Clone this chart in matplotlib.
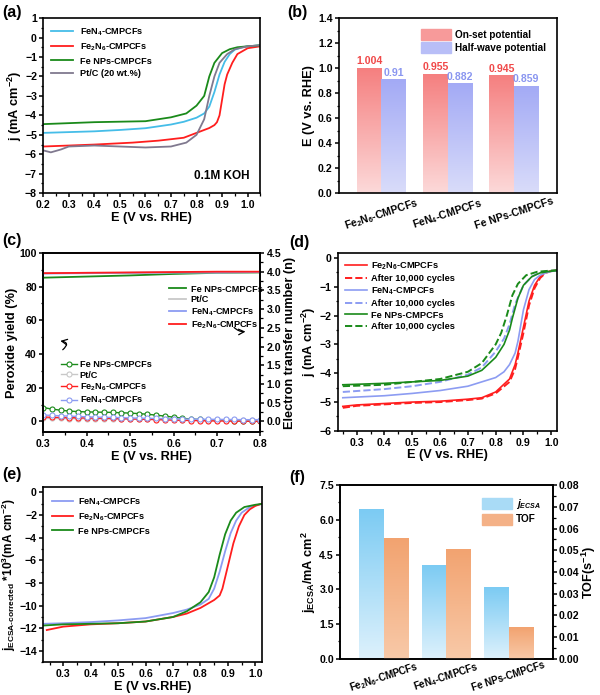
import numpy as np
import matplotlib
matplotlib.use("Agg")
import matplotlib.pyplot as plt
from matplotlib.colors import LinearSegmentedColormap
from matplotlib.ticker import AutoMinorLocator, MultipleLocator
from matplotlib.patches import Patch

plt.rcParams['font.family'] = ['Liberation Sans', 'DejaVu Sans']
plt.rcParams['font.weight'] = 'bold'
plt.rcParams['axes.labelweight'] = 'bold'
plt.rcParams['mathtext.fontset'] = 'custom'
plt.rcParams['mathtext.rm'] = 'Liberation Sans:bold'
plt.rcParams['mathtext.bf'] = 'Liberation Sans:bold'
plt.rcParams['mathtext.it'] = 'Liberation Sans:bold:italic'
plt.rcParams['axes.linewidth'] = 1.2
plt.rcParams['xtick.major.width'] = 1.1
plt.rcParams['ytick.major.width'] = 1.1
plt.rcParams['xtick.minor.width'] = 0.9
plt.rcParams['ytick.minor.width'] = 0.9
plt.rcParams['xtick.major.size'] = 3
plt.rcParams['ytick.major.size'] = 3
plt.rcParams['xtick.minor.size'] = 1.8
plt.rcParams['ytick.minor.size'] = 1.8
plt.rcParams['xtick.major.pad'] = 2
plt.rcParams['ytick.major.pad'] = 1.5

FE2N6 = r'Fe$_2$N$_6$-CMPCFs'
FEN4 = r'FeN$_4$-CMPCFs'
FENP = 'Fe NPs-CMPCFs'

# ---- (a) LSV in 0.1M KOH ----
a_E_fen4 = [0.2, 0.3, 0.4, 0.5, 0.6, 0.7, 0.75, 0.8, 0.83, 0.85, 0.87, 0.89, 0.91, 0.93, 0.95, 0.98, 1.0, 1.05]
a_j_fen4 = [-4.9, -4.86, -4.82, -4.75, -4.66, -4.47, -4.33, -4.12, -3.9, -3.55, -2.8, -1.9, -1.25, -0.85, -0.62, -0.5, -0.45, -0.4]
a_E_fe2n6 = [0.2, 0.3, 0.4, 0.55, 0.65, 0.75, 0.8, 0.85, 0.87, 0.88, 0.89, 0.9, 0.91, 0.92, 0.94, 0.96, 1.0, 1.05]
a_j_fe2n6 = [-5.6, -5.55, -5.5, -5.4, -5.3, -5.15, -4.9, -4.65, -4.5, -4.35, -4.0, -3.2, -2.4, -1.9, -1.3, -0.85, -0.55, -0.45]
a_E_fenp = [0.2, 0.4, 0.6, 0.7, 0.76, 0.8, 0.83, 0.85, 0.87, 0.9, 0.93, 0.96, 1.0, 1.05]
a_j_fenp = [-4.45, -4.35, -4.3, -4.1, -3.9, -3.5, -3.0, -2.0, -1.3, -0.8, -0.6, -0.5, -0.45, -0.4]
a_E_ptc = [0.2, 0.23, 0.27, 0.3, 0.4, 0.5, 0.6, 0.7, 0.76, 0.8, 0.83, 0.85, 0.87, 0.89, 0.92, 0.95, 1.0, 1.05]
a_j_ptc = [-5.8, -5.9, -5.75, -5.6, -5.55, -5.6, -5.65, -5.6, -5.4, -5.0, -4.2, -3.0, -2.0, -1.3, -0.85, -0.6, -0.45, -0.4]

# ---- (b) on-set / half-wave ----
b_cats = [FE2N6, FEN4, FENP]
b_onset = [1.004, 0.955, 0.945]
b_half = [0.91, 0.882, 0.859]
b_onset_lbl = ['1.004', '0.955', '0.945']
b_half_lbl = ['0.91', '0.882', '0.859']

# ---- (c) peroxide yield / electron transfer number ----
c_E = [0.30, 0.32, 0.34, 0.36, 0.38, 0.40, 0.42, 0.44, 0.46, 0.48, 0.50, 0.52, 0.54,
       0.56, 0.58, 0.60, 0.62, 0.64, 0.66, 0.68, 0.70, 0.72, 0.74, 0.76, 0.78, 0.80]
c_h2o2_fenp = [8.2, 7.3, 6.6, 6.1, 5.8, 5.6, 5.5, 5.4, 5.3, 5.1, 4.9, 4.6, 4.2,
               3.7, 3.1, 2.5, 1.8, 1.4, 1.1, 0.9, 0.7, 0.6, 0.5, 0.4, 0.3, 0.3]
c_h2o2_ptc = [1.8, 1.7, 1.7, 1.6, 1.6, 1.5, 1.5, 1.5, 1.4, 1.4, 1.3, 1.3, 1.2,
              1.2, 1.1, 1.1, 1.0, 1.0, 1.0, 0.9, 0.9, 0.9, 0.8, 0.8, 0.8, 0.8]
c_h2o2_fe2n6 = [2.6, 2.4, 2.3, 2.2, 2.1, 2.0, 1.9, 1.8, 1.7, 1.6, 1.5, 1.3, 1.2,
                1.0, 0.9, 0.7, 0.6, 0.5, 0.4, 0.3, 0.2, 0.2, 0.1, 0.1, 0.0, 0.0]
c_h2o2_fen4 = [3.8, 3.5, 3.3, 3.1, 2.9, 2.7, 2.5, 2.4, 2.3, 2.2, 2.0, 1.9, 1.8,
               1.7, 1.6, 1.5, 1.4, 1.3, 1.3, 1.2, 1.2, 1.1, 1.1, 1.0, 1.0, 1.0]
c_En = [0.3, 0.4, 0.5, 0.6, 0.7, 0.8]
c_n_fenp = [3.84, 3.87, 3.9, 3.94, 3.97, 3.98]
c_n_ptc = [3.96, 3.97, 3.97, 3.98, 3.98, 3.99]
c_n_fen4 = [3.95, 3.96, 3.97, 3.98, 3.98, 3.99]
c_n_fe2n6 = [3.96, 3.97, 3.98, 3.99, 4.0, 4.0]

# ---- (d) stability ----
d_E_fe2n6 = [0.25, 0.3, 0.4, 0.5, 0.6, 0.7, 0.75, 0.8, 0.85, 0.87, 0.88, 0.9, 0.92, 0.94, 0.96, 0.98, 1.0, 1.03]
d_j_fe2n6 = [-5.15, -5.1, -5.05, -5.0, -4.97, -4.9, -4.85, -4.65, -4.2, -3.7, -3.3, -2.4, -1.5, -0.95, -0.65, -0.5, -0.45, -0.42]
d_j_fe2n6_after = [-5.2, -5.13, -5.08, -5.03, -5.0, -4.93, -4.88, -4.7, -4.3, -3.85, -3.45, -2.6, -1.65, -1.05, -0.7, -0.52, -0.46, -0.42]
d_E_fen4 = [0.25, 0.4, 0.5, 0.6, 0.7, 0.8, 0.83, 0.85, 0.87, 0.88, 0.89, 0.9, 0.92, 0.94, 0.96, 0.98, 1.0, 1.03]
d_j_fen4 = [-4.85, -4.78, -4.7, -4.6, -4.45, -4.15, -3.95, -3.7, -3.3, -2.9, -2.35, -1.8, -1.1, -0.75, -0.6, -0.52, -0.47, -0.43]
d_E_fen4_after = [0.25, 0.4, 0.5, 0.6, 0.7, 0.75, 0.8, 0.83, 0.85, 0.87, 0.9, 0.93, 0.96, 1.0, 1.03]
d_j_fen4_after = [-4.65, -4.55, -4.45, -4.3, -4.05, -3.8, -3.25, -2.8, -2.3, -1.6, -0.95, -0.65, -0.5, -0.45, -0.43]
d_E_fenp = [0.25, 0.4, 0.5, 0.6, 0.7, 0.75, 0.8, 0.83, 0.85, 0.86, 0.88, 0.9, 0.93, 0.96, 1.0, 1.03]
d_j_fenp = [-4.4, -4.35, -4.3, -4.25, -4.1, -3.9, -3.45, -3.0, -2.5, -2.1, -1.4, -0.95, -0.65, -0.52, -0.46, -0.43]
d_E_fenp_after = [0.25, 0.4, 0.5, 0.6, 0.7, 0.75, 0.8, 0.82, 0.84, 0.86, 0.88, 0.91, 0.95, 1.0, 1.03]
d_j_fenp_after = [-4.45, -4.4, -4.3, -4.2, -3.95, -3.65, -3.0, -2.6, -2.0, -1.3, -0.9, -0.6, -0.48, -0.44, -0.42]

# ---- (e) ECSA-corrected LSV ----
e_E_fen4 = [0.23, 0.3, 0.4, 0.5, 0.6, 0.7, 0.75, 0.8, 0.83, 0.85, 0.87, 0.89, 0.91, 0.93, 0.95, 0.98, 1.0, 1.03]
e_j_fen4 = [-11.6, -11.55, -11.45, -11.3, -11.1, -10.65, -10.35, -9.9, -9.4, -8.5, -7.0, -5.2, -3.6, -2.5, -1.8, -1.3, -1.15, -1.0]
e_E_fe2n6 = [0.24, 0.3, 0.4, 0.5, 0.6, 0.7, 0.75, 0.8, 0.85, 0.87, 0.88, 0.9, 0.92, 0.94, 0.96, 0.98, 1.0, 1.03]
e_j_fe2n6 = [-12.15, -11.85, -11.65, -11.55, -11.4, -11.0, -10.7, -10.2, -9.5, -9.1, -8.5, -6.5, -4.5, -3.0, -2.0, -1.5, -1.2, -0.95]
e_E_fenp = [0.23, 0.3, 0.4, 0.5, 0.6, 0.7, 0.75, 0.8, 0.83, 0.85, 0.87, 0.89, 0.91, 0.93, 0.96, 1.0, 1.03]
e_j_fenp = [-11.75, -11.65, -11.6, -11.55, -11.4, -11.0, -10.5, -9.7, -8.8, -7.5, -5.5, -3.7, -2.5, -1.8, -1.3, -1.1, -1.0]

# ---- (f) j_ECSA and TOF ----
f_cats = [FE2N6, FEN4, FENP]
f_jecsa = [6.46, 4.07, 3.09]
f_tof = [0.0557, 0.0507, 0.0147]

C_CYAN = '#45BDE8'
C_RED = '#FF1E1E'
C_GREEN = '#1A8A1A'
C_GRAY = '#80798F'
C_BLUE = '#8C9CF2'
C_LGRAY = '#C8C8C8'

TICK_FS = 7.6
LAB_FS = 9.2
LEG_FS = 6.6


def grad_bar(ax, x, h, w, c_top, c_bot, z=2):
    bar = ax.bar(x, h, w, color='none', edgecolor='none', zorder=z)[0]
    cmap = LinearSegmentedColormap.from_list('g', [c_bot, c_top])
    grad = np.linspace(0, 1, 100).reshape(-1, 1)
    im = ax.imshow(grad, extent=[bar.get_x(), bar.get_x() + bar.get_width(), 0, bar.get_height()],
                   origin='lower', aspect='auto', cmap=cmap, zorder=z)
    im.set_clip_path(bar)
    return bar


def style(ax, minor_x=True):
    ax.tick_params(labelsize=TICK_FS, direction='out')
    if minor_x:
        ax.xaxis.set_minor_locator(AutoMinorLocator(2))
    ax.yaxis.set_minor_locator(AutoMinorLocator(2))
    for lbl in ax.get_xticklabels() + ax.get_yticklabels():
        lbl.set_fontweight('bold')


fig = plt.figure(figsize=(6, 6.95), dpi=100)
ax_a = fig.add_axes([0.072, 0.722, 0.362, 0.252])
ax_b = fig.add_axes([0.565, 0.722, 0.363, 0.252])
ax_c = fig.add_axes([0.072, 0.378, 0.362, 0.258])
ax_d = fig.add_axes([0.563, 0.380, 0.365, 0.256])
ax_e = fig.add_axes([0.072, 0.047, 0.365, 0.252])
ax_f = fig.add_axes([0.567, 0.052, 0.354, 0.250])

# (a)
ax_a.plot(a_E_fen4, a_j_fen4, color=C_CYAN, lw=1.3, label=FEN4)
ax_a.plot(a_E_fe2n6, a_j_fe2n6, color=C_RED, lw=1.3, label=FE2N6)
ax_a.plot(a_E_fenp, a_j_fenp, color=C_GREEN, lw=1.3, label=FENP)
ax_a.plot(a_E_ptc, a_j_ptc, color=C_GRAY, lw=1.3, label='Pt/C (20 wt.%)')
ax_a.set_xlim(0.2, 1.05)
ax_a.set_ylim(-8, 1)
ax_a.xaxis.set_major_locator(MultipleLocator(0.1))
ax_a.yaxis.set_major_locator(MultipleLocator(1))
ax_a.set_xlabel('E (V vs. RHE)', fontsize=LAB_FS, labelpad=1)
ax_a.set_ylabel(r'j (mA cm$^{-2}$)', fontsize=LAB_FS, labelpad=1)
ax_a.text(0.79, -7.1, '0.1M KOH', fontsize=8.5, fontweight='bold', va='center')
ax_a.legend(loc='upper left', fontsize=LEG_FS, frameon=False, handlelength=2.3,
            labelspacing=0.4, borderaxespad=0.5)
style(ax_a)

# (b)
w = 0.37
xb = np.arange(len(b_cats))
for i in range(len(b_cats)):
    grad_bar(ax_b, xb[i] - w / 2, b_onset[i], w, '#F57F7F', '#FCD9D9')
    grad_bar(ax_b, xb[i] + w / 2, b_half[i], w, '#A3AAF5', '#D9DCFA')
    ax_b.text(xb[i] - w / 2, b_onset[i] + 0.01, b_onset_lbl[i], ha='center', va='bottom',
              color='#F04848', fontsize=7.6, fontweight='bold')
    ax_b.text(xb[i] + w / 2, b_half[i] + 0.01, b_half_lbl[i], ha='center', va='bottom',
              color='#8A96F0', fontsize=7.6, fontweight='bold')
ax_b.set_xlim(-0.64, 2.65)
ax_b.set_ylim(0, 1.4)
ax_b.set_xticks(xb)
ax_b.set_xticklabels(b_cats, rotation=18, ha='center')
ax_b.yaxis.set_major_locator(MultipleLocator(0.2))
ax_b.set_ylabel('E (V vs. RHE)', fontsize=LAB_FS, labelpad=2)
ax_b.legend(handles=[Patch(color='#F79A9A', label='On-set potential'),
                     Patch(color='#B8BEF7', label='Half-wave potential')],
            loc='upper right', fontsize=7.2, frameon=False, handlelength=3, handleheight=1.3,
            labelspacing=0.25, borderaxespad=0.7, handletextpad=0.4)
style(ax_b, minor_x=False)
ax_b.tick_params(axis='x', length=0)

# (c)
ax_c2 = ax_c.twinx()
mk = dict(lw=1, marker='o', ms=3.6, mfc='white', mew=0.8)
ax_c.plot(c_E, c_h2o2_fenp, color=C_GREEN, label=FENP, **mk)
ax_c.plot(c_E, c_h2o2_ptc, color=C_LGRAY, label='Pt/C', **mk)
ax_c.plot(c_E, c_h2o2_fe2n6, color=C_RED, label=FE2N6, **mk)
ax_c.plot(c_E, c_h2o2_fen4, color=C_BLUE, label=FEN4, **mk)
ax_c2.plot(c_En, c_n_fenp, color=C_GREEN, lw=1.3, label=FENP)
ax_c2.plot(c_En, c_n_ptc, color=C_LGRAY, lw=1.3, label='Pt/C')
ax_c2.plot(c_En, c_n_fen4, color=C_BLUE, lw=1.3, label=FEN4)
ax_c2.plot(c_En, c_n_fe2n6, color=C_RED, lw=1.3, label=FE2N6)
ax_c.set_xlim(0.3, 0.8)
ax_c.set_ylim(-6.5, 100)
ax_c2.set_ylim(-6.5 * 4.5 / 100, 4.5)
ax_c.xaxis.set_major_locator(MultipleLocator(0.1))
ax_c.yaxis.set_major_locator(MultipleLocator(20))
ax_c2.yaxis.set_major_locator(MultipleLocator(0.5))
ax_c.set_xlabel('E (V vs. RHE)', fontsize=LAB_FS, labelpad=1)
ax_c.set_ylabel('Peroxide yield (%)', fontsize=LAB_FS, labelpad=1)
ax_c2.set_ylabel('Electron transfer number (n)', fontsize=LAB_FS, labelpad=2)
ax_c.legend(loc='upper left', bbox_to_anchor=(0.045, 0.45), fontsize=LEG_FS, frameon=False,
            handlelength=1.7, labelspacing=0.2, handletextpad=0.3)
ax_c2.legend(loc='upper left', bbox_to_anchor=(0.54, 0.87), fontsize=LEG_FS, frameon=False,
             handlelength=1.9, labelspacing=0.2, handletextpad=0.5)
ax_c.annotate('', xy=(0.333, 48), xytext=(0.34, 41.5),
              arrowprops=dict(arrowstyle='->', color='black', lw=0.9, connectionstyle='arc3,rad=1.3'))
ax_c.annotate('', xy=(0.772, 53.5), xytext=(0.735, 57),
              arrowprops=dict(arrowstyle='->', color='black', lw=0.9, connectionstyle='arc3,rad=0.3'))
style(ax_c)
style(ax_c2)

# (d)
ax_d.plot(d_E_fe2n6, d_j_fe2n6, color=C_RED, lw=1.2, label=FE2N6)
ax_d.plot(d_E_fe2n6, d_j_fe2n6_after, color=C_RED, lw=1.4, ls='--', label='After 10,000 cycles')
ax_d.plot(d_E_fen4, d_j_fen4, color=C_BLUE, lw=1.2, label=FEN4)
ax_d.plot(d_E_fen4_after, d_j_fen4_after, color=C_BLUE, lw=1.4, ls='--', label='After 10,000 cycles')
ax_d.plot(d_E_fenp, d_j_fenp, color=C_GREEN, lw=1.2, label=FENP)
ax_d.plot(d_E_fenp_after, d_j_fenp_after, color=C_GREEN, lw=1.4, ls='--', label='After 10,000 cycles')
ax_d.set_xlim(0.232, 1.02)
ax_d.set_ylim(-6, 0.17)
ax_d.set_xticks([0.3, 0.4, 0.5, 0.6, 0.7, 0.8, 0.9, 1.0])
ax_d.yaxis.set_major_locator(MultipleLocator(1))
ax_d.set_xlabel('E (V vs. RHE)', fontsize=LAB_FS, labelpad=1)
ax_d.set_ylabel(r'j (mA cm$^{-2}$)', fontsize=LAB_FS, labelpad=1)
ax_d.legend(loc='upper left', fontsize=6.7, frameon=False, handlelength=2.3,
            labelspacing=0.25, borderaxespad=0.4, handletextpad=0.5)
style(ax_d)

# (e)
ax_e.plot(e_E_fen4, e_j_fen4, color=C_BLUE, lw=1.3, label=FEN4)
ax_e.plot(e_E_fe2n6, e_j_fe2n6, color=C_RED, lw=1.3, label=FE2N6)
ax_e.plot(e_E_fenp, e_j_fenp, color=C_GREEN, lw=1.3, label=FENP)
ax_e.set_xlim(0.227, 1.025)
ax_e.set_ylim(-15, 0.45)
ax_e.set_xticks([0.3, 0.4, 0.5, 0.6, 0.7, 0.8, 0.9, 1.0])
ax_e.yaxis.set_major_locator(MultipleLocator(2))
ax_e.set_xlabel('E (V vs.RHE)', fontsize=LAB_FS, labelpad=1)
ax_e.set_ylabel(r'j$_{\mathrm{ECSA\text{-}corrected}}$ *10$^3$(mA cm$^{-2}$)', fontsize=8.6, labelpad=1)
ax_e.legend(loc='upper left', fontsize=LEG_FS, frameon=False, handlelength=2.3,
            labelspacing=0.4, borderaxespad=0.6, handletextpad=0.5)
style(ax_e)

# (f)
ax_f2 = ax_f.twinx()
wf = 0.4
xf = np.arange(len(f_cats))
for i in range(len(f_cats)):
    grad_bar(ax_f, xf[i] - wf / 2, f_jecsa[i], wf, '#7CCBF3', '#DDF1FC')
    grad_bar(ax_f2, xf[i] + wf / 2, f_tof[i], wf, '#F2A370', '#F8C9A8')
ax_f.set_xlim(-0.71, 2.71)
ax_f2.set_xlim(-0.71, 2.71)
ax_f.set_ylim(0, 7.5)
ax_f2.set_ylim(0, 0.08)
ax_f.set_xticks(xf)
ax_f.set_xticklabels(f_cats, rotation=18, ha='center')
ax_f.yaxis.set_major_locator(MultipleLocator(1.5))
ax_f2.yaxis.set_major_locator(MultipleLocator(0.01))
ax_f.set_ylabel(r'j$_{\mathrm{ECSA}}$/mA cm$^2$', fontsize=LAB_FS, labelpad=1)
ax_f2.set_ylabel(r'TOF(s$^{-1}$)', fontsize=LAB_FS, labelpad=0.5)
ax_f2.legend(handles=[Patch(color='#A9DBF6', label=r'$j_{ECSA}$'),
                      Patch(color='#F4B187', label='TOF')],
             loc='upper right', fontsize=7.2, frameon=False, handlelength=3, handleheight=1.3,
             labelspacing=0.25, borderaxespad=0.8, handletextpad=0.4)
style(ax_f, minor_x=False)
style(ax_f2, minor_x=False)
ax_f2.tick_params(axis='y', pad=1)
ax_f.tick_params(axis='x', length=0, pad=0.5, labelsize=7.0)

panel_pos = [('(a)', 0.004, 0.993), ('(b)', 0.478, 0.993), ('(c)', 0.004, 0.665),
             ('(d)', 0.482, 0.662), ('(e)', 0.004, 0.328), ('(f)', 0.482, 0.324)]
for t, px, py in panel_pos:
    fig.text(px, py, t, fontsize=11.5, fontweight='bold', va='top')

fig.savefig('out.png', dpi=100)
